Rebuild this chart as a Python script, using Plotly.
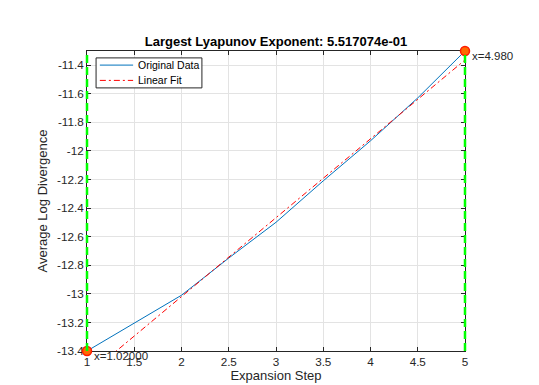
import plotly.graph_objects as go

# Data
steps = [1, 2, 2.5, 3, 3.5, 4, 4.5, 5]
avg_log_div = [-13.40, -13.01, -12.75, -12.50, -12.21, -11.93, -11.63, -11.302]
fit_slope = 0.5517074
fit_intercept = -14.123
fit_x = [1, 5]
fit_y = [fit_intercept + fit_slope * v for v in fit_x]
range_x = [1.0, 5.0]
range_y = [avg_log_div[0], avg_log_div[-1]]
range_labels = ["x=1.02000", "x=4.980"]
legend_names = ["Original Data", "Linear Fit"]
x_ticks = [1, 1.5, 2, 2.5, 3, 3.5, 4, 4.5, 5]
x_ticklabels = ["1", "1.5", "2", "2.5", "3", "3.5", "4", "4.5", "5"]
y_ticks = [-13.4, -13.2, -13.0, -12.8, -12.6, -12.4, -12.2, -12.0, -11.8, -11.6, -11.4]
y_ticklabels = ["-13.4", "-13.2", "-13", "-12.8", "-12.6", "-12.4", "-12.2", "-12", "-11.8", "-11.6", "-11.4"]

FONT = "Liberation Sans, Arial, sans-serif"
TXT = "#262626"
BLUE = "#0072BD"
RED = "#FF0000"
XMIN, XMAX = 1.0, 5.0

fig = go.Figure()
fig.add_trace(go.Scatter(x=steps, y=avg_log_div, mode="lines", name=legend_names[0],
                         showlegend=False, line=dict(color=BLUE, width=1)))
fig.add_trace(go.Scatter(x=fit_x, y=fit_y, mode="lines", name=legend_names[1],
                         showlegend=False,
                         line=dict(color=RED, width=1, dash="6px,3px,2px,3px")))

# vertical green dashed range lines (domain-referenced so they are not clipped at the edges)
for xv in range_x:
    xd = (xv - XMIN) / (XMAX - XMIN)
    fig.add_shape(type="line", xref="x domain", yref="y domain", x0=xd, x1=xd, y0=0, y1=1,
                  line=dict(color="#00FF00", width=2.5, dash="8px,4px"), layer="above")

fig.add_trace(go.Scatter(x=range_x, y=range_y, mode="markers", showlegend=False,
                         cliponaxis=False,
                         marker=dict(size=9, color="#FF6A00", line=dict(color="#FF1A00", width=1.5))))

fig.add_annotation(x=range_x[0], y=range_y[0], text=range_labels[0], showarrow=False,
                   xanchor="left", yanchor="middle", xshift=5, yshift=-5,
                   font=dict(family=FONT, size=11.5, color=TXT))
fig.add_annotation(x=range_x[1], y=range_y[1], text=range_labels[1], showarrow=False,
                   xanchor="left", yanchor="middle", xshift=5, yshift=-5,
                   font=dict(family=FONT, size=11.5, color=TXT))

# legend box drawn in axis-domain units
fig.add_shape(type="rect", xref="x domain", yref="y domain", x0=0.024, x1=0.304, y0=0.877, y1=0.977,
              line=dict(color=TXT, width=1), fillcolor="white", layer="above")
legend_styles = [dict(color=BLUE, width=1), dict(color=RED, width=1, dash="6px,3px,2px,3px")]
legend_rows = [0.953, 0.902]
for name, style, yr in zip(legend_names, legend_styles, legend_rows):
    fig.add_shape(type="line", xref="x domain", yref="y domain", x0=0.034, x1=0.122, y0=yr, y1=yr,
                  line=style, layer="above")
    fig.add_annotation(xref="x domain", yref="y domain", x=0.130, y=yr, text=name, showarrow=False,
                       xanchor="left", yanchor="middle",
                       font=dict(family=FONT, size=10.5, color="#000000"))

axis_common = dict(showline=True, linecolor=TXT, linewidth=1, mirror="ticks",
                   ticks="inside", ticklen=4, tickcolor=TXT,
                   showgrid=True, gridcolor="#E3E3E3", gridwidth=1,
                   zeroline=False, layer="below traces",
                   tickfont=dict(family=FONT, size=11.7, color=TXT))

fig.update_layout(
    width=539, height=385,
    margin=dict(l=79, r=82, t=43, b=42),
    paper_bgcolor="white", plot_bgcolor="white",
    title=dict(text="<b>Largest Lyapunov Exponent: 5.517074e-01</b>",
               xref="paper", x=0.5, xanchor="center", y=1 - 33 / 385, yanchor="middle",
               font=dict(family=FONT, size=13, color="#000000")),
    xaxis=dict(range=[XMIN, XMAX], tickvals=x_ticks, ticktext=x_ticklabels,
               title=dict(text="Expansion Step", standoff=2,
                          font=dict(family=FONT, size=13, color=TXT)),
               **axis_common),
    yaxis=dict(range=[range_y[0], range_y[1]], tickvals=y_ticks, ticktext=y_ticklabels,
               title=dict(text="Average Log Divergence", standoff=6,
                          font=dict(family=FONT, size=13, color=TXT)),
               **axis_common),
    showlegend=False,
)

fig.write_html("out.html")
